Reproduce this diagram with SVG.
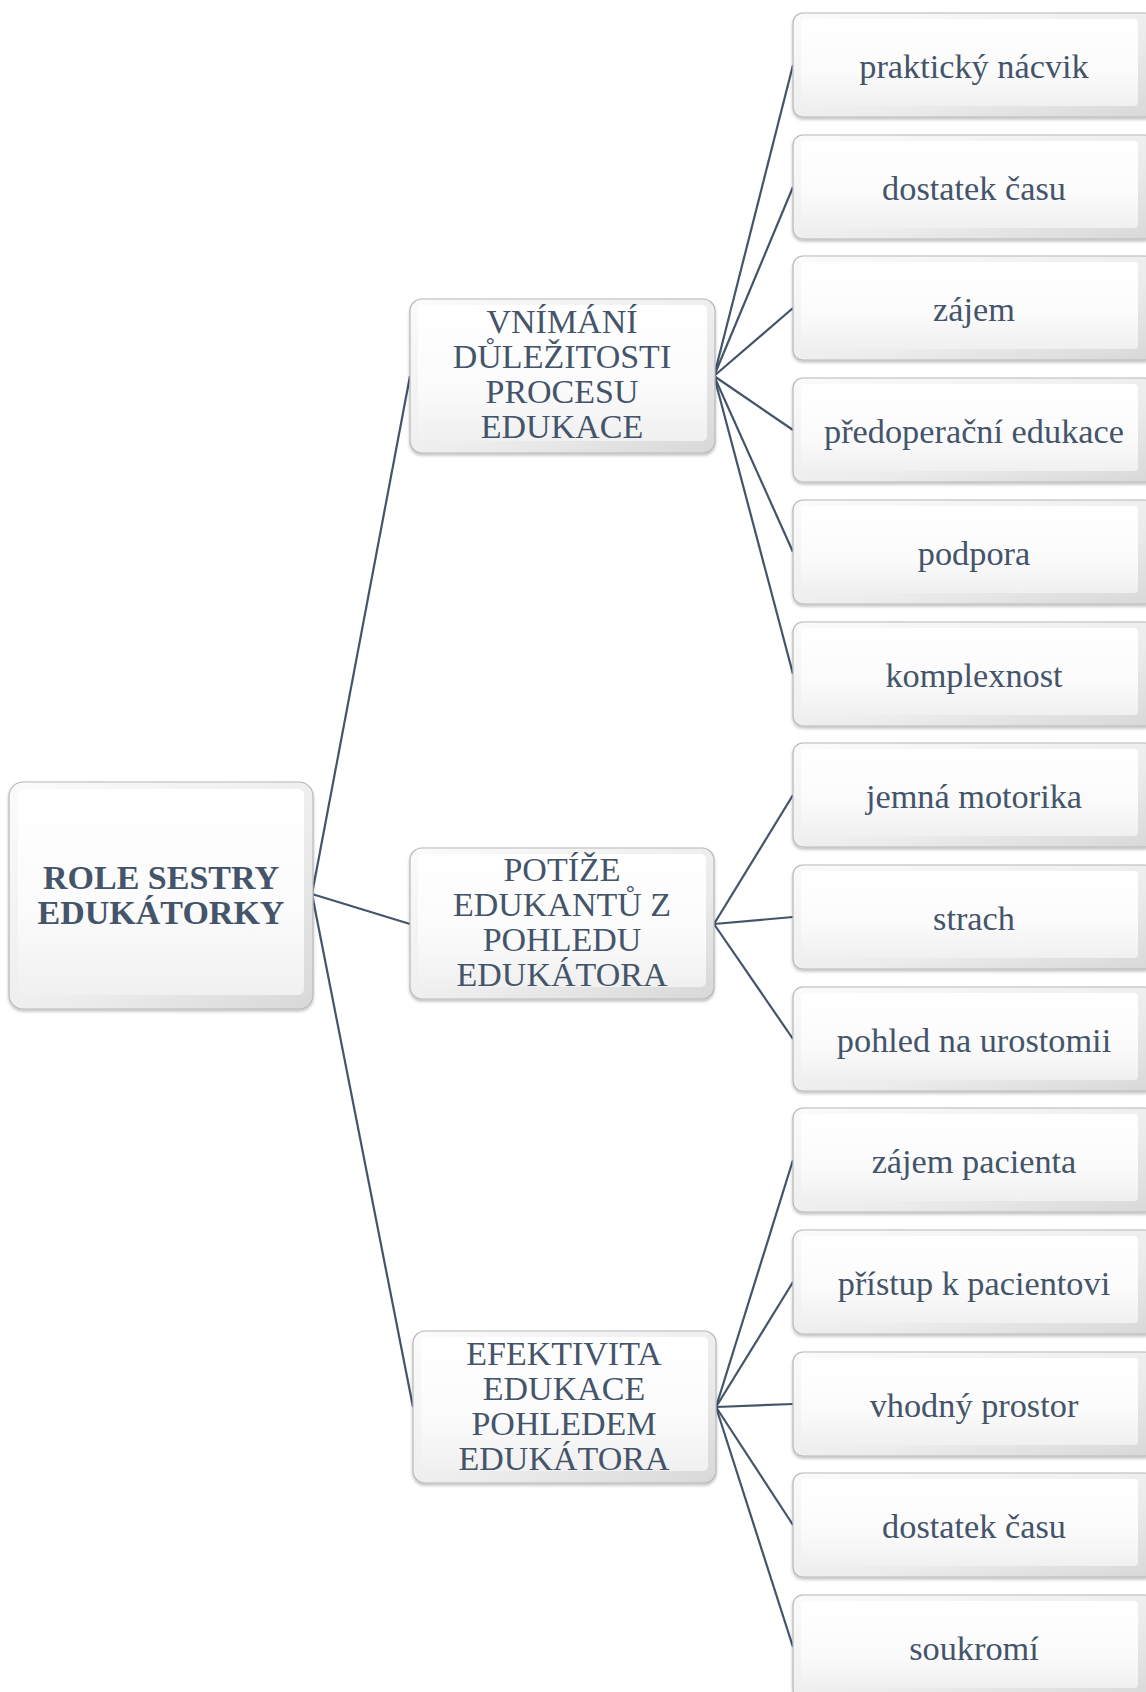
<svg xmlns="http://www.w3.org/2000/svg" width="1146" height="1692" viewBox="0 0 1146 1692">
<defs>
<linearGradient id="outerG" x1="0" y1="0" x2="1" y2="1">
<stop offset="0" stop-color="#fbfbfb"/>
<stop offset="0.6" stop-color="#ececec"/>
<stop offset="1" stop-color="#d8d8d8"/>
</linearGradient>
<linearGradient id="innerG" x1="0" y1="0" x2="0" y2="1">
<stop offset="0" stop-color="#ffffff"/>
<stop offset="0.6" stop-color="#fbfbfb"/>
<stop offset="1" stop-color="#f0f0f0"/>
</linearGradient>
<filter id="sh" x="-5%" y="-5%" width="110%" height="115%">
<feDropShadow dx="0" dy="2" stdDeviation="1.5" flood-color="#000" flood-opacity="0.25"/>
</filter>
</defs>
<style>
.o{fill:url(#outerG);stroke:#b8b8b8;stroke-width:1.2;filter:url(#sh)}
.i{fill:url(#innerG);stroke:none}
.t{font-family:"Liberation Serif","Times New Roman",serif;fill:#44546A;text-anchor:middle}
.r{font-size:34.3px}
.m{font-size:34px}
.b{font-size:34px;font-weight:bold}
.c line{stroke:#44546A;stroke-width:2.2;fill:none}
</style>
<rect width="1146" height="1692" fill="#ffffff"/>
<g class="c" id="connectors">
<line x1="312" y1="894" x2="410" y2="376"/>
<line x1="312" y1="894" x2="410" y2="924"/>
<line x1="312" y1="894" x2="413" y2="1407"/>
<line x1="714" y1="376" x2="793" y2="65"/>
<line x1="714" y1="376" x2="793" y2="187"/>
<line x1="714" y1="376" x2="793" y2="308"/>
<line x1="714" y1="376" x2="793" y2="430"/>
<line x1="714" y1="376" x2="793" y2="552"/>
<line x1="714" y1="376" x2="793" y2="674"/>
<line x1="714" y1="924" x2="793" y2="795"/>
<line x1="714" y1="924" x2="793" y2="917"/>
<line x1="714" y1="924" x2="793" y2="1039"/>
<line x1="716" y1="1407" x2="793" y2="1160"/>
<line x1="716" y1="1407" x2="793" y2="1282"/>
<line x1="716" y1="1407" x2="793" y2="1404"/>
<line x1="716" y1="1407" x2="793" y2="1525"/>
<line x1="716" y1="1407" x2="793" y2="1647"/>
</g>
<g id="root">
<rect class="o" x="9" y="782" width="304" height="227" rx="14"/>
<rect class="i" x="18" y="789" width="286" height="206" rx="6"/>
<text class="t b" x="161" y="889">ROLE SESTRY</text>
<text class="t b" x="161" y="924">EDUKÁTORKY</text>
</g>
<g id="mid1">
<rect class="o" x="410" y="299" width="305" height="154" rx="12"/>
<rect class="i" x="418" y="305" width="289" height="136" rx="5"/>
<text class="t m" x="562" y="333">VNÍMÁNÍ</text>
<text class="t m" x="562" y="368">DŮLEŽITOSTI</text>
<text class="t m" x="562" y="403">PROCESU</text>
<text class="t m" x="562" y="438">EDUKACE</text>
</g>
<g id="mid2">
<rect class="o" x="410" y="848" width="304" height="151" rx="12"/>
<rect class="i" x="418" y="854" width="288" height="133" rx="5"/>
<text class="t m" x="562" y="881">POTÍŽE</text>
<text class="t m" x="562" y="916">EDUKANTŮ Z</text>
<text class="t m" x="562" y="951">POHLEDU</text>
<text class="t m" x="562" y="986">EDUKÁTORA</text>
</g>
<g id="mid3">
<rect class="o" x="413" y="1331" width="303" height="152" rx="12"/>
<rect class="i" x="421" y="1337" width="287" height="134" rx="5"/>
<text class="t m" x="564" y="1365">EFEKTIVITA</text>
<text class="t m" x="564" y="1400">EDUKACE</text>
<text class="t m" x="564" y="1435">POHLEDEM</text>
<text class="t m" x="564" y="1470">EDUKÁTORA</text>
</g>
<g id="leaf1"><rect class="o" x="793" y="13" width="362" height="104" rx="10"/><rect class="i" x="801" y="19" width="337" height="87" rx="4"/><text class="t r" x="974" y="78">praktický nácvik</text></g>
<g id="leaf2"><rect class="o" x="793" y="135" width="362" height="104" rx="10"/><rect class="i" x="801" y="141" width="337" height="87" rx="4"/><text class="t r" x="974" y="200">dostatek času</text></g>
<g id="leaf3"><rect class="o" x="793" y="256" width="362" height="104" rx="10"/><rect class="i" x="801" y="262" width="337" height="87" rx="4"/><text class="t r" x="974" y="321">zájem</text></g>
<g id="leaf4"><rect class="o" x="793" y="378" width="362" height="104" rx="10"/><rect class="i" x="801" y="384" width="337" height="87" rx="4"/><text class="t r" x="974" y="443">předoperační edukace</text></g>
<g id="leaf5"><rect class="o" x="793" y="500" width="362" height="104" rx="10"/><rect class="i" x="801" y="506" width="337" height="87" rx="4"/><text class="t r" x="974" y="565">podpora</text></g>
<g id="leaf6"><rect class="o" x="793" y="622" width="362" height="104" rx="10"/><rect class="i" x="801" y="628" width="337" height="87" rx="4"/><text class="t r" x="974" y="687">komplexnost</text></g>
<g id="leaf7"><rect class="o" x="793" y="743" width="362" height="104" rx="10"/><rect class="i" x="801" y="749" width="337" height="87" rx="4"/><text class="t r" x="974" y="808">jemná motorika</text></g>
<g id="leaf8"><rect class="o" x="793" y="865" width="362" height="104" rx="10"/><rect class="i" x="801" y="871" width="337" height="87" rx="4"/><text class="t r" x="974" y="930">strach</text></g>
<g id="leaf9"><rect class="o" x="793" y="987" width="362" height="104" rx="10"/><rect class="i" x="801" y="993" width="337" height="87" rx="4"/><text class="t r" x="974" y="1052">pohled na urostomii</text></g>
<g id="leaf10"><rect class="o" x="793" y="1108" width="362" height="104" rx="10"/><rect class="i" x="801" y="1114" width="337" height="87" rx="4"/><text class="t r" x="974" y="1173">zájem pacienta</text></g>
<g id="leaf11"><rect class="o" x="793" y="1230" width="362" height="104" rx="10"/><rect class="i" x="801" y="1236" width="337" height="87" rx="4"/><text class="t r" x="974" y="1295">přístup k pacientovi</text></g>
<g id="leaf12"><rect class="o" x="793" y="1352" width="362" height="104" rx="10"/><rect class="i" x="801" y="1358" width="337" height="87" rx="4"/><text class="t r" x="974" y="1417">vhodný prostor</text></g>
<g id="leaf13"><rect class="o" x="793" y="1473" width="362" height="104" rx="10"/><rect class="i" x="801" y="1479" width="337" height="87" rx="4"/><text class="t r" x="974" y="1538">dostatek času</text></g>
<g id="leaf14"><rect class="o" x="793" y="1595" width="362" height="104" rx="10"/><rect class="i" x="801" y="1601" width="337" height="87" rx="4"/><text class="t r" x="974" y="1660">soukromí</text></g>
</svg>
